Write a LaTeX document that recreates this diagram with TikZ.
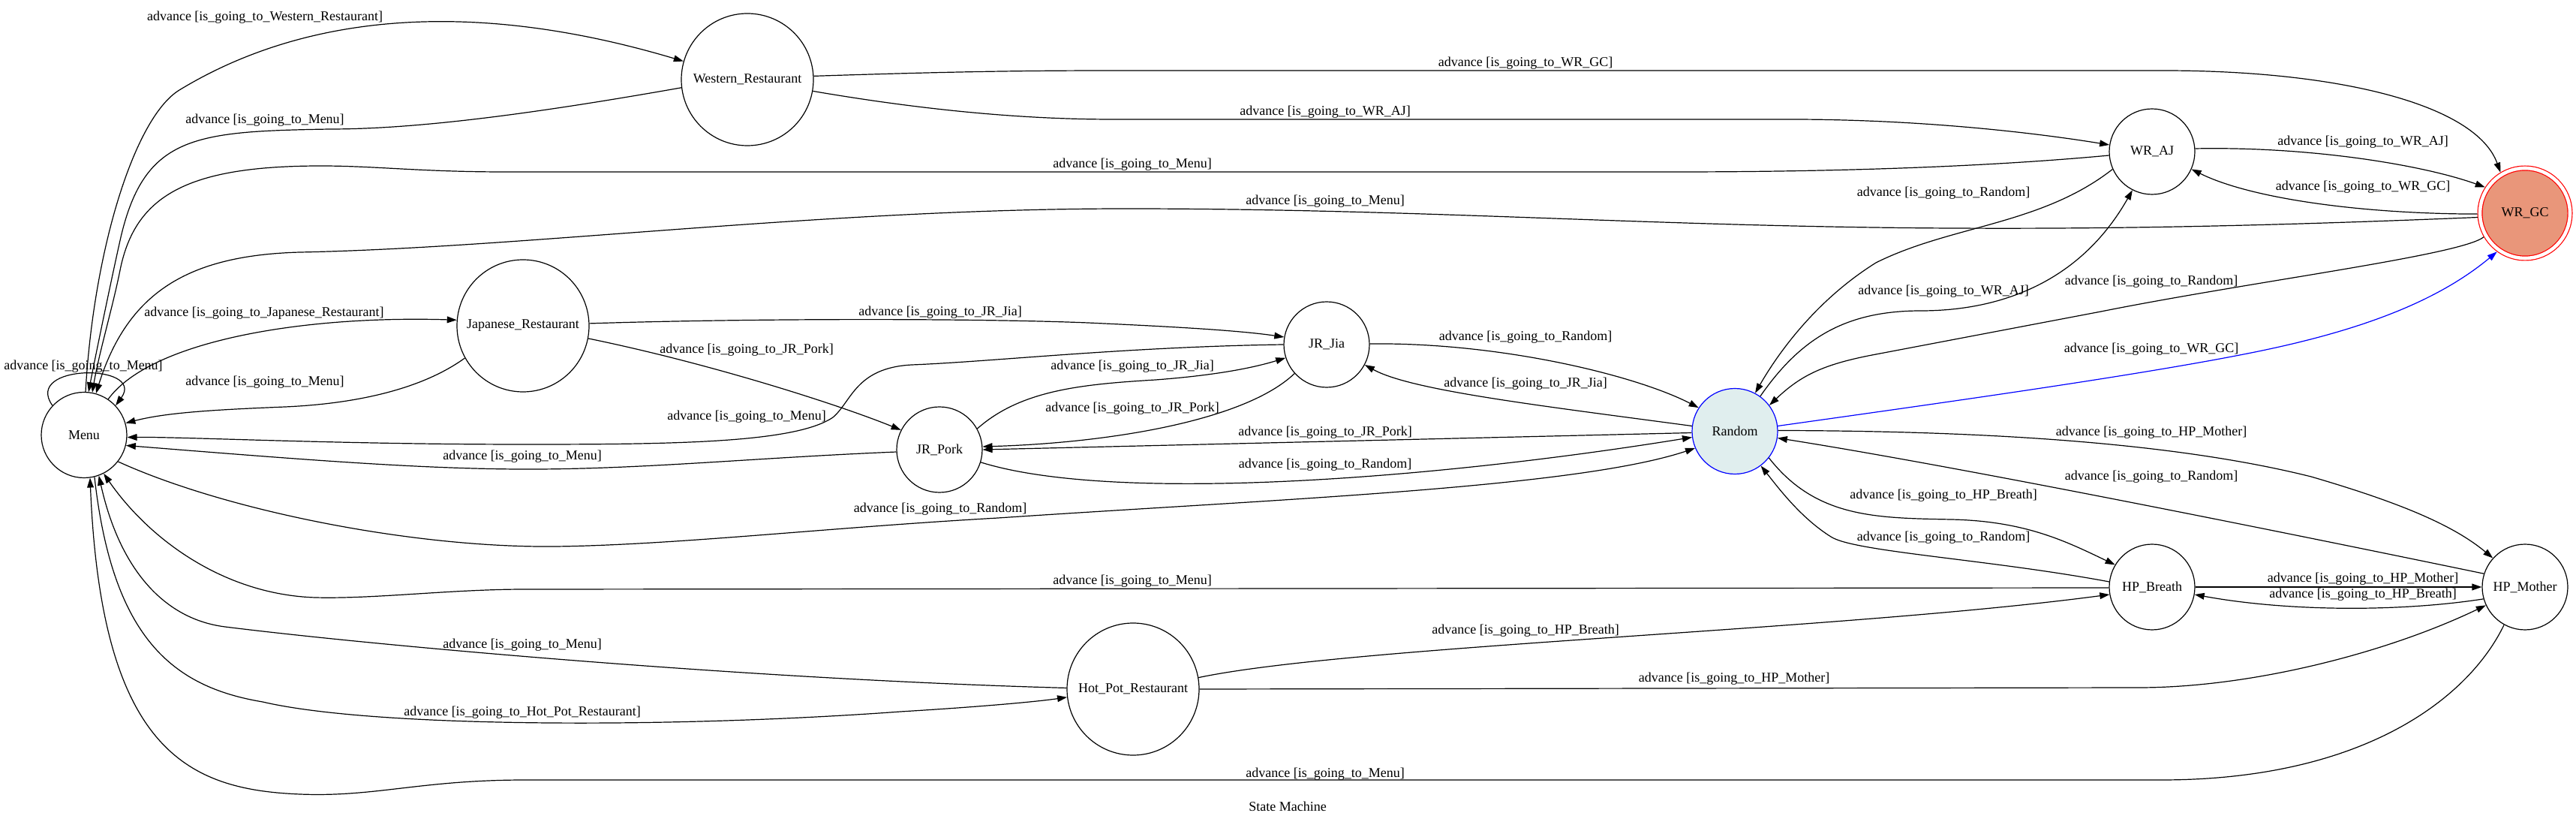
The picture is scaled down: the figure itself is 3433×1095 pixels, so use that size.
\documentclass[tikz,border=0pt]{standalone}
\usepackage{fontspec}
\setmainfont{Liberation Serif}
\usetikzlibrary{arrows.meta}
\definecolor{rndfill}{HTML}{E0EEEE}
\definecolor{gcfill}{HTML}{E9967A}
\newcommand{\adv}[1]{advance [is\_going\_to\_#1]}
\tikzset{
  state/.style={circle, draw, line width=0.6pt, inner sep=0pt, minimum size=57pt, font=\fontsize{9}{11}\selectfont},
  bigstate/.style={state, minimum size=88pt},
  edge/.style={line width=0.6pt, -{Triangle[length=6.5pt,width=4.4pt]}},
  lbl/.style={inner sep=0pt, font=\fontsize{9}{11}\selectfont}
}
\begin{document}
\begin{tikzpicture}[x=0.5pt, y=-0.5pt]
\useasboundingbox (0,0) rectangle (3433,1095);
% states
\node[state] (menu) at (112,579.5) {Menu};
\node[bigstate] (west) at (996,106) {Western\_Restaurant};
\node[bigstate] (jap) at (697,434) {Japanese\_Restaurant};
\node[bigstate] (hot) at (1510,918) {Hot\_Pot\_Restaurant};
\node[state] (jia) at (1768,459) {JR\_Jia};
\node[state] (pork) at (1252,599) {JR\_Pork};
\node[state, draw=blue, fill=rndfill] (random) at (2312,574.5) {Random};
\node[state] (wraj) at (2868,202) {WR\_AJ};
\node[state, draw=red, fill=gcfill, double=white, double distance=2.3pt, minimum size=60pt, outer sep=1.75pt] (wrgc) at (3365,284) {WR\_GC};
\node[state] (breath) at (2868,782) {HP\_Breath};
\node[state] (mother) at (3365,782) {HP\_Mother};

% transitions out of Menu and the restaurants
\draw[edge] (menu.137) .. controls (30,484) and (195,484) .. (menu.43);
\draw[edge] (menu.88) .. controls (125,330) and (180,156) .. (239,120) .. controls (400,22) and (620,-5) .. (west.164);
\draw[edge] (west.187) .. controls (720,150) and (560,172) .. (440,172) .. controls (260,175) and (193,180) .. (161,316) .. controls (151,360) and (128,470) .. (menu.84);
\draw[edge] (menu.56) .. controls (200,455) and (400,420) .. (jap.175);
\draw[edge] (jap.209) .. controls (560,520) and (470,538) .. (380,542) .. controls (280,546) and (220,550) .. (menu.16);
\draw[edge] (menu.-38) .. controls (300,680) and (550,730) .. (740,728) .. controls (900,726) and (1100,703) .. (1330,690) .. controls (1700,665) and (2100,650) .. (random.203);
\draw[edge] (menu.-76) .. controls (150,850) and (230,915) .. (350,935) .. controls (500,970) and (900,970) .. (1200,948) .. controls (1300,942) and (1380,935) .. (hot.187);
\draw[edge] (west.3) .. controls (1250,96) and (1350,94) .. (1483,94) -- (2883,94) .. controls (3120,94) and (3300,140) .. (wrgc.121);
\draw[edge] (west.-10) .. controls (1250,150) and (1380,159) .. (1483,159) -- (2386,159) .. controls (2550,159) and (2700,175) .. (wraj.171);
\draw[edge] (wraj.185) .. controls (2650,222) and (2450,229) .. (2233,229) -- (673,229) .. controls (560,229) and (500,221) .. (428,221) .. controls (250,221) and (180,260) .. (160,360) .. controls (150,410) and (132,470) .. (menu.79);
\draw[edge] (wrgc.185) .. controls (3000,302) and (2800,305) .. (2600,304) .. controls (2200,302) and (1900,278) .. (1500,278) .. controls (1100,278) and (700,330) .. (400,336) .. controls (250,340) and (170,390) .. (menu.74);
\draw[edge] (jap.2) .. controls (1000,424) and (1300,424) .. (1450,430) .. controls (1560,435) and (1650,440) .. (jia.170);
\draw[edge] (jap.-11) .. controls (950,485) and (1120,540) .. (pork.153);

% JR states
\draw[edge] (jia.180) .. controls (1500,462) and (1320,482) .. (1215,486) .. controls (1140,490) and (1135,535) .. (1110,556) .. controls (1060,590) and (900,592) .. (700,592) .. controls (450,592) and (250,582) .. (menu.-3);
\draw[edge] (pork.183) .. controls (1000,610) and (850,626) .. (689,625) .. controls (550,624) and (400,612) .. (menu.-14);
\draw[edge] (jia.1) .. controls (2000,456) and (2180,500) .. (random.147);
\draw[edge] (random.173) .. controls (2050,540) and (1880,520) .. (jia.-28);
\draw[edge] (pork.29) .. controls (1360,520) and (1440,512) .. (1540,506) .. controls (1620,500) and (1670,490) .. (jia.198);
\draw[edge] (jia.222) .. controls (1660,560) and (1480,590) .. (pork.4);
\draw[edge] (random.182) -- (pork.0);
\draw[edge] (pork.-17) .. controls (1480,670) and (1900,640) .. (random.188);

% WR states
\draw[edge] (wraj.4) .. controls (3080,195) and (3230,220) .. (wrgc.147);
\draw[edge] (wrgc.181) .. controls (3150,285) and (3000,265) .. (wraj.-24);
\draw[edge] (wraj.204) .. controls (2720,300) and (2600,300) .. (2500,350) .. controls (2420,400) and (2370,470) .. (random.62);
\draw[edge] (random.54) .. controls (2400,450) and (2460,414) .. (2560,414) .. controls (2660,414) and (2770,380) .. (wraj.243);
\draw[edge] (wrgc.210) .. controls (3280,340) and (3000,375) .. (2800,415) -- (2500,472) .. controls (2430,485) and (2400,500) .. (random.37);
\draw[edge, blue] (random.7) .. controls (2600,535) and (2850,500) .. (3000,470) .. controls (3150,440) and (3250,400) .. (wrgc.234);

% HP states
\draw[edge] (random.1) .. controls (2650,574) and (2900,590) .. (3080,635) .. controls (3200,670) and (3270,700) .. (mother.138);
\draw[edge] (mother.162) .. controls (3000,700) and (2600,620) .. (random.-9);
\draw[edge] (random.-38) .. controls (2420,690) and (2500,690) .. (2600,692) .. controls (2700,694) and (2755,722) .. (breath.149);
\draw[edge] (breath.173) .. controls (2650,745) and (2470,735) .. (2440,715) .. controls (2400,690) and (2370,650) .. (random.-53);
\draw[edge] (breath.0) -- (mother.180);
\draw[edge] (mother.196) .. controls (3200,815) and (3050,815) .. (breath.-10);
\draw[edge] (breath.181) -- (700,785) .. controls (600,785) and (500,798) .. (420,796) .. controls (300,792) and (200,720) .. (menu.-63);
\draw[edge] (hot.10) .. controls (1800,860) and (2450,840) .. (breath.190);
\draw[edge] (hot.0) -- (2850,916) .. controls (3000,916) and (3180,870) .. (mother.205);
\draw[edge] (hot.179) .. controls (1000,905) and (500,860) .. (300,835) .. controls (220,825) and (160,760) .. (menu.-70);
\draw[edge] (mother.241) .. controls (3290,930) and (3150,1039) .. (2880,1039) -- (700,1039) .. controls (560,1039) and (500,1062) .. (400,1058) .. controls (250,1052) and (135,1000) .. (menu.-82);

% labels
\node[lbl] (l1) at (111,488) {\adv{Menu}};
\node[lbl] (l2) at (353,23) {\adv{Western\_Restaurant}};
\node[lbl] (l3) at (353,160) {\adv{Menu}};
\node[lbl] (l4) at (2033,84) {\adv{WR\_GC}};
\node[lbl] (l5) at (1766,149) {\adv{WR\_AJ}};
\node[lbl] (l6) at (1509,219) {\adv{Menu}};
\node[lbl] (l7) at (1766,268) {\adv{Menu}};
\node[lbl] (l8) at (352,417) {\adv{Japanese\_Restaurant}};
\node[lbl] (l9) at (353,509) {\adv{Menu}};
\node[lbl] (l10) at (1253,416) {\adv{JR\_Jia}};
\node[lbl] (l11) at (995,466) {\adv{JR\_Pork}};
\node[lbl] (l12) at (995,555) {\adv{Menu}};
\node[lbl] (l13) at (696,608) {\adv{Menu}};
\node[lbl] (l14) at (1253,678) {\adv{Random}};
\node[lbl] (l15) at (2033,449) {\adv{Random}};
\node[lbl] (l16) at (2033,511) {\adv{JR\_Jia}};
\node[lbl] (l17) at (1509,488) {\adv{JR\_Jia}};
\node[lbl] (l18) at (1509,544) {\adv{JR\_Pork}};
\node[lbl] (l19) at (1766,576) {\adv{JR\_Pork}};
\node[lbl] (l20) at (1766,619) {\adv{Random}};
\node[lbl] (l21) at (3149,189) {\adv{WR\_AJ}};
\node[lbl] (l22) at (3149,249) {\adv{WR\_GC}};
\node[lbl] (l23) at (2590,257) {\adv{Random}};
\node[lbl] (l24) at (2590,388) {\adv{WR\_AJ}};
\node[lbl] (l25) at (2867,375) {\adv{Random}};
\node[lbl] (l26) at (2867,465) {\adv{WR\_GC}};
\node[lbl] (l27) at (2867,576) {\adv{HP\_Mother}};
\node[lbl] (l28) at (2867,635) {\adv{Random}};
\node[lbl] (l29) at (2590,660) {\adv{HP\_Breath}};
\node[lbl] (l30) at (2590,716) {\adv{Random}};
\node[lbl] (l31) at (3149,771) {\adv{HP\_Mother}};
\node[lbl] (l32) at (3149,792) {\adv{HP\_Breath}};
\node[lbl] (l33) at (1509,774) {\adv{Menu}};
\node[lbl] (l34) at (2033,840) {\adv{HP\_Breath}};
\node[lbl] (l35) at (2311,904) {\adv{HP\_Mother}};
\node[lbl] (l36) at (696,859) {\adv{Menu}};
\node[lbl] (l37) at (696,949) {\adv{Hot\_Pot\_Restaurant}};
\node[lbl] (l38) at (1766,1031) {\adv{Menu}};
\node[lbl] (title) at (1716,1074) {State Machine};
\end{tikzpicture}
\end{document}
